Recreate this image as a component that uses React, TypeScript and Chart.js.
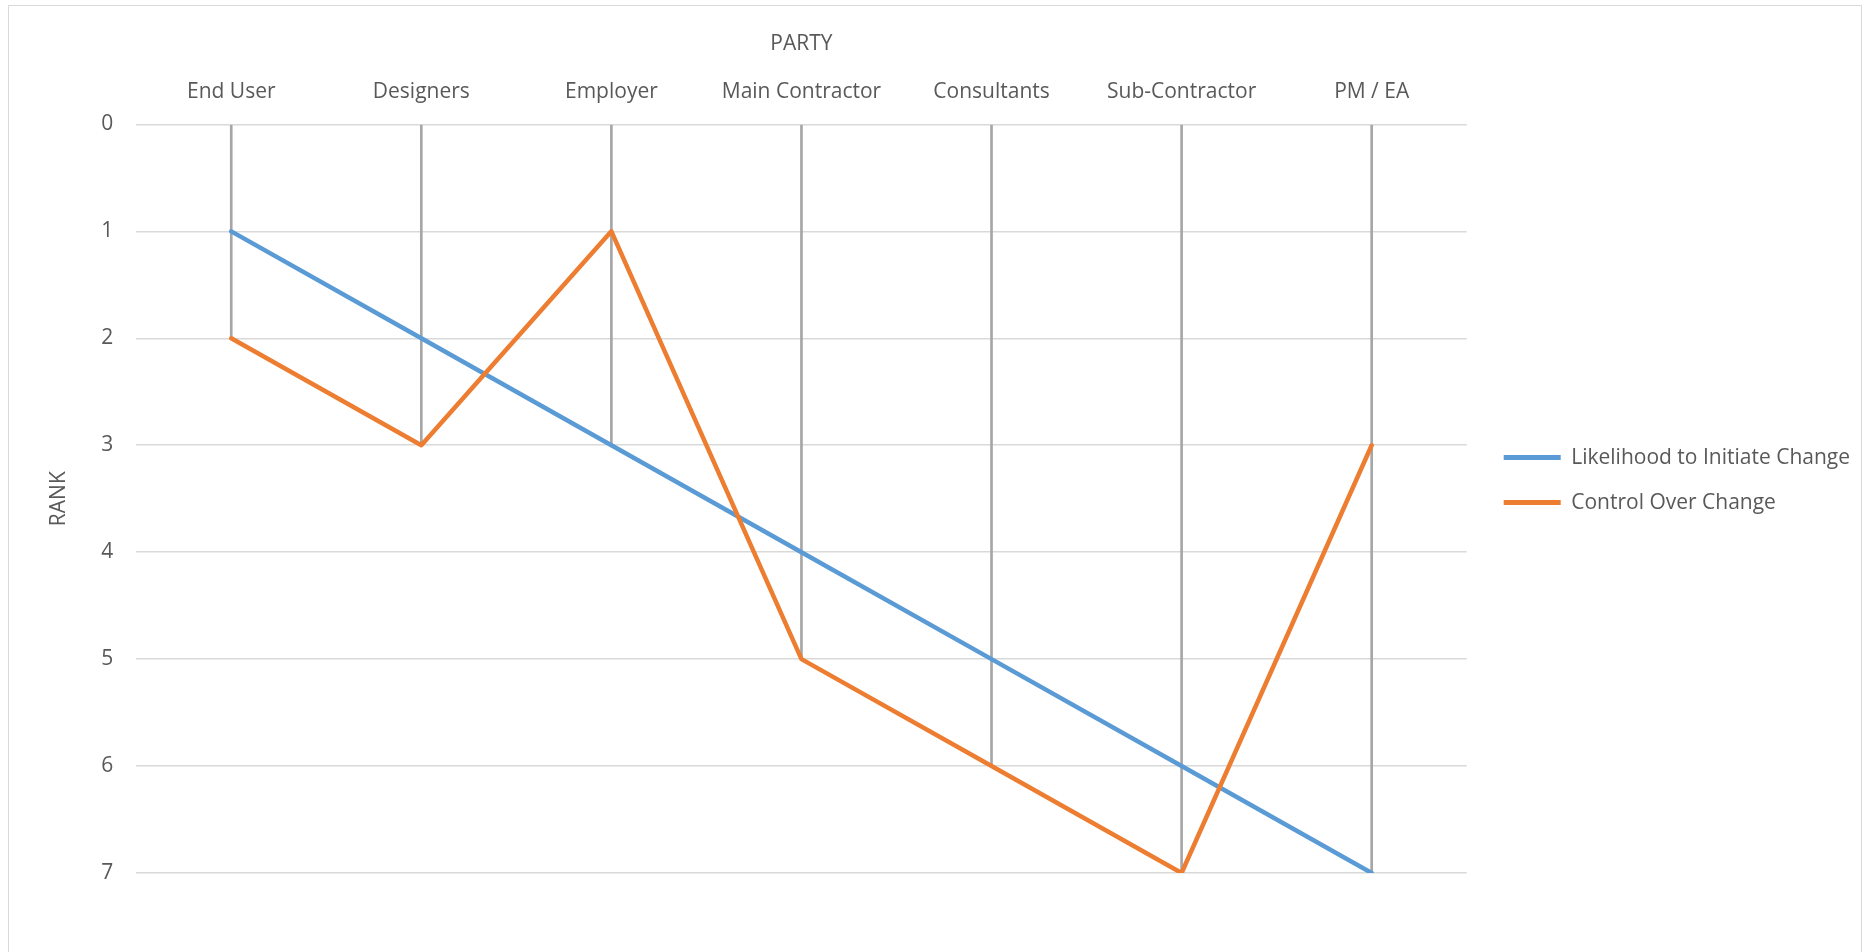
import React, { useEffect, useRef } from "react";
import { Chart, registerables } from "chart.js";

Chart.register(...registerables);

const categories = ["End User", "Designers", "Employer", "Main Contractor", "Consultants", "Sub-Contractor", "PM / EA"];
const likelihood = [1, 2, 3, 4, 5, 6, 7];
const control = [2, 3, 1, 5, 6, 7, 3];
const seriesNames = ["Likelihood to Initiate Change", "Control Over Change"];
const rankTicks = [0, 1, 2, 3, 4, 5, 6, 7];

const FONT = "'Open Sans', 'DejaVu Sans', sans-serif";
const TEXT = "#595959";
const FS = 21;

export default function App() {
  const ref = useRef<HTMLCanvasElement | null>(null);
  useEffect(() => {
    if (!ref.current) return;
    const dropTops = categories.map((_, i) => [rankTicks[0], Math.max(likelihood[i], control[i])]);
    const chart = new Chart(ref.current, {
      type: "line",
      data: {
        labels: categories,
        datasets: [
          {
            label: seriesNames[0],
            data: likelihood,
            borderColor: "#5B9BD5",
            backgroundColor: "#5B9BD5",
            borderWidth: 4.5,
            pointRadius: 0,
            borderJoinStyle: "round",
            borderCapStyle: "round",
            order: 2,
          },
          {
            label: seriesNames[1],
            data: control,
            borderColor: "#ED7D31",
            backgroundColor: "#ED7D31",
            borderWidth: 4.5,
            pointRadius: 0,
            borderJoinStyle: "round",
            borderCapStyle: "round",
            order: 1,
          },
          {
            type: "bar",
            label: "drop",
            data: dropTops as any,
            backgroundColor: "#A6A6A6",
            borderWidth: 0,
            barThickness: 2,
            order: 3,
          } as any,
        ],
      },
      options: {
        animation: false,
        responsive: false,
        maintainAspectRatio: false,
        layout: { padding: { top: 31, left: 46, right: 10, bottom: 79 } },
        plugins: {
          tooltip: { enabled: false },
          legend: {
            position: "right",
            maxWidth: 600,
            title: { display: true, text: " ", font: { size: 1 }, padding: { top: 0, bottom: 55 } },
            labels: {
              boxWidth: 57,
              boxHeight: 5,
              padding: 24,
              color: TEXT,
              font: { family: FONT, size: FS },
              sort: (a: any, b: any) => a.datasetIndex - b.datasetIndex,
              generateLabels: (c: any) =>
                (Chart.defaults.plugins.legend.labels.generateLabels as any)(c)
                  .filter((it: any) => it.datasetIndex !== 2)
                  .map((it: any) => ({ ...it, lineWidth: 0, fillStyle: it.strokeStyle })),
            },
          },
        },
        scales: {
          x: {
            position: "top",
            offset: true,
            grid: { display: false, drawTicks: false },
            border: { display: false },
            ticks: { color: TEXT, font: { family: FONT, size: FS }, padding: 20, maxRotation: 0 },
            title: {
              display: true,
              text: "PARTY",
              color: TEXT,
              font: { family: FONT, size: FS },
              padding: { top: 0, bottom: 3 },
            },
          },
          y: {
            reverse: true,
            min: 0,
            max: 7,
            afterBuildTicks: (s: any) => {
              s.ticks = rankTicks.map((v) => ({ value: v }));
            },
            grid: { color: "#D9D9D9", lineWidth: 1.5, drawTicks: false },
            border: { display: false },
            ticks: { color: TEXT, font: { family: FONT, size: FS }, padding: 23 },
            title: {
              display: true,
              text: "RANK",
              color: TEXT,
              font: { family: FONT, size: FS },
              padding: { top: 0, bottom: 7 },
            },
          },
          y2: {
            position: "right",
            display: true,
            grid: { display: false, drawTicks: false },
            border: { display: false },
            ticks: { display: false },
            afterFit: (s: any) => {
              s.width = 13;
            },
          },
        },
      },
    });
    return () => chart.destroy();
  }, []);
  return (
    <div style={{ position: "fixed", left: 0, top: 0, width: 1870, height: 952, background: "#fff" }}>
      <div
        style={{
          position: "absolute",
          left: 8,
          top: 5,
          width: 1852,
          height: 960,
          border: "1.5px solid #D9D9D9",
        }}
      />
      <canvas ref={ref} width={1870} height={952} style={{ position: "absolute", left: 0, top: 0, width: 1870, height: 952 }} />
    </div>
  );
}
